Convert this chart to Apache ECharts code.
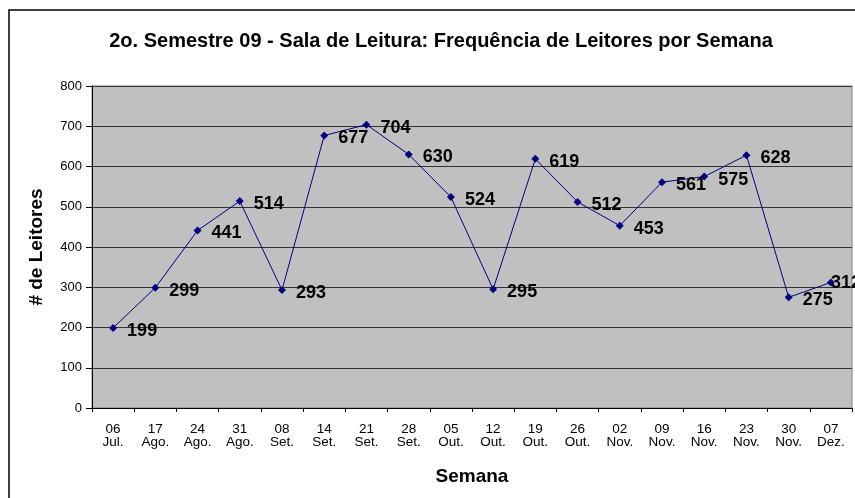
<!DOCTYPE html>
<html>
<head>
<meta charset="utf-8">
<script src="https://cdn.jsdelivr.net/npm/echarts@6/dist/echarts.min.js"></script>
<style>
  html, body { margin: 0; padding: 0; background: #fff; }
  #chart { width: 855px; height: 498px; }
</style>
</head>
<body>
<div id="chart"></div>
<script>
var semanas = ['06\nJul.', '17\nAgo.', '24\nAgo.', '31\nAgo.', '08\nSet.', '14\nSet.', '21\nSet.', '28\nSet.',
  '05\nOut.', '12\nOut.', '19\nOut.', '26\nOut.', '02\nNov.', '09\nNov.', '16\nNov.', '23\nNov.', '30\nNov.', '07\nDez.']
var leitores = [199, 299, 441, 514, 293, 677, 704, 630, 524, 295, 619, 512, 453, 561, 575, 628, 275, 312]

var chart = echarts.init(document.getElementById('chart'))
var font = 'Arial, "Liberation Sans", sans-serif'

// the last label sits closer to its point (no room at the right edge)
var pontos = leitores.map(function(v, i) {
  if (i === leitores.length - 1) {
    return { value: v, label: { distance: 0, offset: [-4, 1] } }
  }
  return v
})

var option = {
  animation: false,
  textStyle: { fontFamily: font },
  title: {
    text: '2o. Semestre 09 - Sala de Leitura: Frequência de Leitores por Semana',
    left: 436,
    textAlign: 'center',
    top: 26,
    textStyle: { fontSize: 20, fontWeight: 'bold', color: '#000', fontFamily: font }
  },
  graphic: [{
    type: 'rect',
    shape: { x: 9, y: 10, width: 900, height: 600 },
    style: { fill: 'none', stroke: '#000', lineWidth: 1.5 },
    z: 0
  }],
  grid: {
    left: 92,
    right: 3,
    top: 86,
    bottom: 90,
    show: true,
    backgroundColor: '#c0c0c0',
    borderColor: '#808080',
    borderWidth: 1
  },
  xAxis: {
    type: 'category',
    data: semanas,
    boundaryGap: true,
    name: 'Semana',
    nameLocation: 'middle',
    nameGap: 59,
    nameTextStyle: { fontSize: 19, fontWeight: 'bold', color: '#000', fontFamily: font },
    axisLine: { lineStyle: { color: '#000', width: 1 } },
    axisTick: { show: true, length: 4, lineStyle: { color: '#000' } },
    axisLabel: { color: '#000', fontSize: 13.5, lineHeight: 13, margin: 15, interval: 0, fontFamily: font }
  },
  yAxis: {
    type: 'value',
    min: 0,
    max: 800,
    interval: 100,
    name: '# de Leitores',
    nameLocation: 'middle',
    nameGap: 46,
    nameTextStyle: { fontSize: 19, fontWeight: 'bold', color: '#000', fontFamily: font },
    axisLine: { show: true, lineStyle: { color: '#000', width: 1 } },
    axisTick: { show: true, length: 6, lineStyle: { color: '#000' } },
    axisLabel: { color: '#000', fontSize: 13, margin: 10, fontFamily: font },
    splitLine: { show: true, lineStyle: { color: '#333', width: 1 } }
  },
  series: [{
    type: 'line',
    data: pontos,
    color: '#000080',
    lineStyle: { color: '#000080', width: 1 },
    symbol: 'diamond',
    symbolSize: 8,
    itemStyle: { color: '#000080' },
    label: {
      show: true,
      position: 'right',
      distance: 10,
      offset: [0, 3],
      color: '#000',
      fontSize: 18,
      fontWeight: 'bold',
      fontFamily: font
    }
  }]
}
chart.setOption(option)
</script>
</body>
</html>
